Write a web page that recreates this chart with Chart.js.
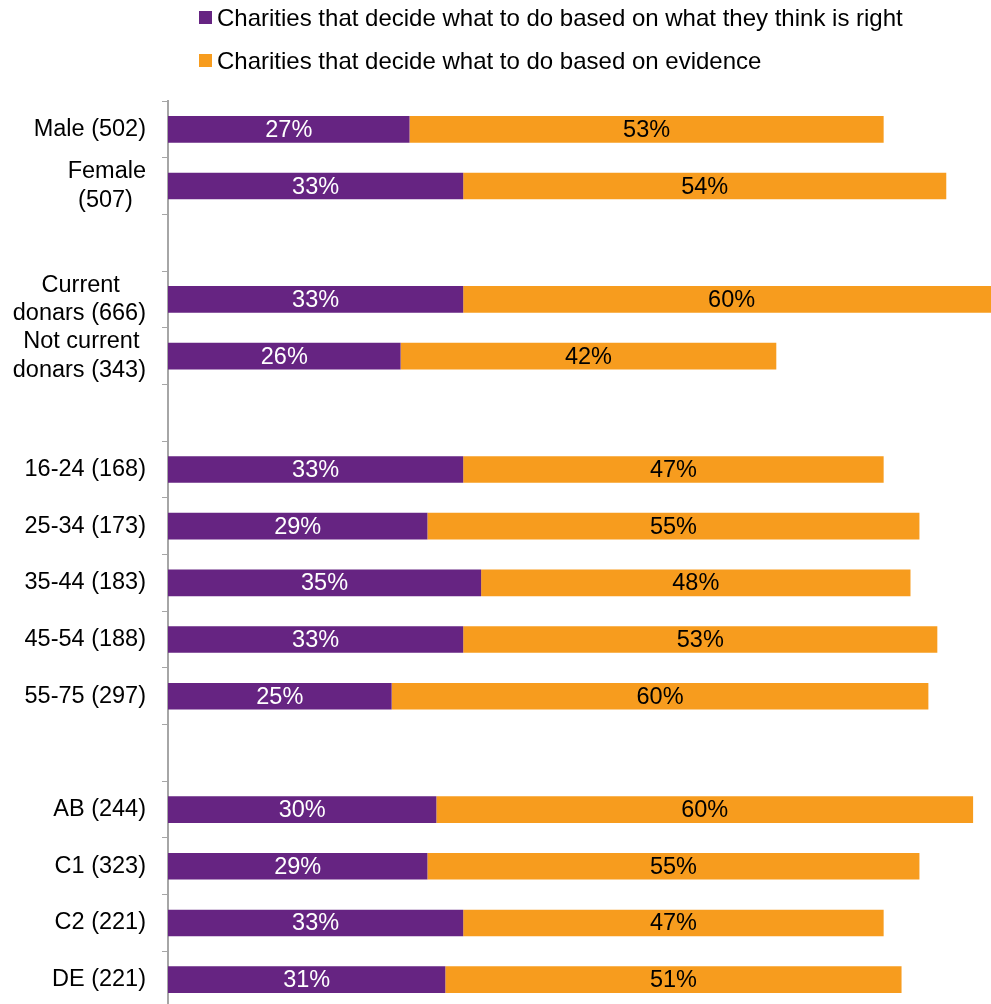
<!DOCTYPE html>
<html>
<head>
<meta charset="utf-8">
<title>Charities: belief vs evidence</title>
<script src="https://cdn.jsdelivr.net/npm/chart.js@4.4.1/dist/chart.umd.min.js"></script>
<style>
  html, body { margin: 0; padding: 0; background: #fff; overflow: hidden; }
  .wrap { position: relative; width: 991px; height: 1008px; }
  #legend { position: absolute; left: 199px; top: -4px; font: 24px "Liberation Sans", Arial, sans-serif; color: #000; }
  #legend .row { display: flex; align-items: center; height: 43px; white-space: nowrap; }
  #legend .sw { width: 13px; height: 13px; margin-right: 5px; }
</style>
</head>
<body>
<div class="wrap">
  <canvas id="chart"></canvas>
  <div id="legend"></div>
</div>
<script>
// trailing spaces nudge the shorter line so two-line labels read centred
const CATEGORIES = [
  "Male (502)",
  ["Female", "(507)  "],
  "",
  ["Current    ", "donars (666)"],
  ["Not current ", "donars (343)"],
  "",
  "16-24 (168)",
  "25-34 (173)",
  "35-44 (183)",
  "45-54 (188)",
  "55-75 (297)",
  "",
  "AB (244)",
  "C1 (323)",
  "C2 (221)",
  "DE (221)",
];

const SERIES_NAMES = [
  "Charities that decide what to do based on what they think is right",
  "Charities that decide what to do based on evidence",
];

const THINK_RIGHT = [27, 33, null, 33, 26, null, 33, 29, 35, 33, 25, null, 30, 29, 33, 31];
const EVIDENCE = [53, 54, null, 60, 42, null, 47, 55, 48, 53, 60, null, 60, 55, 47, 51];

const PURPLE = "#662482";
const ORANGE = "#F79C1E";
const AXIS_GREY = "#a6a6a6";
const FONT = '"Liberation Sans", Arial, sans-serif';

Chart.defaults.font.family = FONT;
Chart.defaults.color = "#000";

const barLabels = {
  id: "barLabels",
  afterDatasetsDraw(chart) {
    const ctx = chart.ctx;
    const colours = ["#fff", "#000"];
    ctx.save();
    ctx.font = "23.5px " + FONT;
    ctx.textAlign = "center";
    ctx.textBaseline = "middle";
    chart.data.datasets.forEach((ds, i) => {
      const meta = chart.getDatasetMeta(i);
      meta.data.forEach((bar, j) => {
        const v = ds.data[j];
        if (v == null) return;
        ctx.fillStyle = colours[i];
        ctx.fillText(v + "%", (bar.x + bar.base) / 2, bar.y + 1);
      });
    });
    ctx.restore();
  },
};

const chart = new Chart(document.getElementById("chart"), {
  type: "bar",
  data: {
    labels: CATEGORIES,
    datasets: [
      { label: SERIES_NAMES[0], data: THINK_RIGHT, backgroundColor: PURPLE },
      { label: SERIES_NAMES[1], data: EVIDENCE, backgroundColor: ORANGE },
    ],
  },
  options: {
    indexAxis: "y",
    responsive: true,
    maintainAspectRatio: false,
    animation: false,
    layout: { padding: { top: 101, left: 0, right: 0, bottom: 0 } },
    datasets: {
      bar: { categoryPercentage: 1, barPercentage: 0.47 },
    },
    plugins: {
      legend: { display: false },
      tooltip: { enabled: false },
    },
    scales: {
      x: {
        stacked: true,
        display: false,
        min: 0,
        max: 92,
      },
      y: {
        stacked: true,
        border: { display: true, color: AXIS_GREY, width: 2 },
        grid: {
          drawOnChartArea: false,
          drawTicks: true,
          tickLength: 6,
          color: AXIS_GREY,
        },
        ticks: {
          autoSkip: false,
          padding: 16,
          color: "#000",
          font: { size: 23.5, lineHeight: 1.2 },
        },
        afterFit(scale) {
          scale.width = 168;
          scale.paddingTop = 0;
          scale.paddingBottom = 0;
        },
      },
    },
  },
  plugins: [barLabels],
});

// legend drawn as html so both rows can sit left-aligned at the same indent
const legendEl = document.getElementById("legend");
chart.data.datasets.forEach((ds) => {
  const row = document.createElement("div");
  row.className = "row";
  const sw = document.createElement("span");
  sw.className = "sw";
  sw.style.background = ds.backgroundColor;
  const txt = document.createElement("span");
  txt.textContent = ds.label;
  row.appendChild(sw);
  row.appendChild(txt);
  legendEl.appendChild(row);
});
</script>
</body>
</html>
